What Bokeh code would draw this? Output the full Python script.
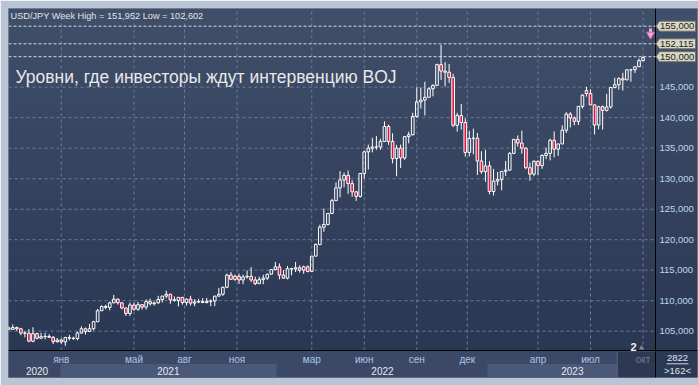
import numpy as np
from bokeh.plotting import figure
from bokeh.models import Range1d, ColumnDataSource
from bokeh.embed import file_html
from bokeh.resources import INLINE
from bokeh.core.properties import value

# ---------------- data (weekly USD/JPY, week index 0 = week of 5 Oct 2020) ----
week = list(range(-1, 157))
opens = [105.55,105.30,105.60,105.40,104.70,104.65,103.35,104.60,103.85,104.10,
         104.15,104.00,103.30,103.55,103.25,103.95,103.85,103.80,104.70,105.40,
         104.95,105.40,106.55,108.35,109.05,108.90,109.65,110.25,109.65,108.80,
         107.90,109.30,108.60,109.35,108.95,109.85,109.50,109.65,110.20,110.75,
         111.05,110.15,110.05,110.55,109.70,110.25,109.60,109.80,109.85,109.70,
         109.90,109.95,110.75,111.05,112.20,114.20,113.50,114.00,113.40,113.90,
         114.00,113.40,112.80,113.45,113.70,114.35,115.10,115.55,114.20,113.70,
         115.25,115.20,115.40,115.00,115.55,114.80,117.30,119.20,122.05,122.50,
         124.30,126.40,128.50,129.80,130.55,129.20,127.85,127.10,130.85,134.40,
         135.00,135.20,135.20,136.10,138.55,136.10,133.30,135.00,133.40,136.90,
         137.20,140.20,142.60,142.90,143.35,144.75,145.30,148.70,147.65,147.45,
         146.60,138.75,140.35,139.20,134.30,136.60,136.65,132.90,131.15,132.10,
         127.90,129.60,129.85,131.20,131.40,134.15,136.45,135.85,135.00,131.80,
         130.75,132.85,132.15,133.80,134.15,136.30,134.85,135.70,137.95,140.60,
         139.95,139.40,141.85,144.45,143.95,142.10,138.80,141.80,141.20,141.75,
         144.95,145.40,146.40,146.20,147.85,147.85,148.35,149.35]
highs = [105.80,106.10,105.75,105.55,105.05,105.35,105.65,104.75,104.75,104.75,
         104.50,104.20,103.90,103.80,104.10,104.40,104.10,104.95,105.80,105.60,
         106.20,106.70,108.65,109.25,109.35,109.85,110.95,110.35,109.80,108.90,
         109.70,109.70,109.80,109.45,110.20,110.35,109.85,110.80,110.80,111.65,
         111.15,110.70,110.60,110.60,110.35,110.80,110.25,110.30,110.40,110.45,
         110.20,110.80,112.10,112.30,114.45,114.70,114.30,114.45,114.30,114.95,
         115.50,113.95,113.95,114.25,114.40,115.20,116.35,116.10,115.05,115.70,
         115.40,116.35,115.80,115.75,115.80,117.35,119.40,122.45,125.10,124.35,
         126.70,129.40,131.25,131.00,131.35,129.75,128.00,130.95,134.55,135.60,
         136.70,137.00,136.55,139.40,138.85,137.45,135.55,135.60,137.00,137.70,
         140.80,144.99,144.95,145.90,145.00,145.45,148.85,151.95,149.10,148.80,
         147.20,140.80,142.25,139.90,137.85,138.20,137.50,134.50,134.75,132.85,
         131.60,131.10,131.20,132.90,134.35,136.50,137.10,137.90,135.15,132.65,
         133.00,133.00,134.00,135.10,136.55,137.75,135.75,138.75,140.90,140.90,
         140.20,141.90,143.85,145.05,144.65,142.15,141.95,142.00,143.90,145.00,
         146.55,146.65,147.35,147.90,147.95,148.45,149.70,150.05]
lows = [105.20,105.25,105.05,104.35,104.00,103.20,103.20,103.65,103.70,103.65,
        103.90,102.90,103.10,102.95,102.60,103.50,103.55,103.50,104.60,104.45,
        104.95,105.15,106.50,108.35,108.60,108.40,109.60,109.35,108.60,107.50,
        107.50,108.35,108.35,108.55,108.55,109.20,109.20,109.50,109.70,110.40,
        109.50,109.85,109.05,109.35,109.20,109.20,109.10,109.60,109.60,109.55,
        109.10,109.10,110.70,110.80,112.05,113.40,113.25,112.75,112.70,113.60,
        113.05,112.55,112.75,112.70,113.40,114.30,115.00,113.50,113.60,113.50,
        114.15,114.70,114.60,114.40,114.65,114.80,117.30,119.10,121.30,122.35,
        124.20,126.40,126.95,128.60,127.50,127.05,126.35,126.90,130.05,131.50,
        134.30,134.75,134.75,136.10,135.55,132.50,130.40,131.75,133.10,135.80,
        137.10,140.00,141.50,140.35,143.30,143.50,145.30,146.20,145.10,145.70,
        138.45,137.70,138.05,133.60,133.65,134.00,130.60,130.80,129.50,127.45,
        127.25,128.90,128.10,130.45,131.30,134.05,135.25,134.10,131.55,129.65,
        130.40,130.60,131.60,133.20,133.00,133.50,133.75,135.65,137.50,138.40,
        138.75,138.80,141.50,143.45,142.05,137.25,138.10,138.05,141.00,141.50,
        144.80,144.60,144.45,146.15,145.90,147.30,148.30,149.25]
closes = [105.30,105.60,105.40,104.70,104.65,103.35,104.60,103.85,104.10,104.15,
          104.00,103.30,103.55,103.25,103.95,103.85,103.80,104.70,105.40,104.95,
          105.40,106.55,108.35,109.05,108.90,109.65,110.25,109.65,108.80,107.90,
          109.30,108.60,109.35,108.95,109.85,109.50,109.65,110.20,110.75,111.05,
          110.15,110.05,110.55,109.70,110.25,109.60,109.80,109.85,109.70,109.90,
          109.95,110.75,111.05,112.20,114.20,113.50,114.00,113.40,113.90,114.00,
          113.40,112.80,113.45,113.70,114.35,115.10,115.55,114.20,113.70,115.25,
          115.20,115.40,115.00,115.55,114.80,117.30,119.20,122.05,122.50,124.30,
          126.40,128.50,129.80,130.55,129.20,127.85,127.10,130.85,134.40,135.00,
          135.20,135.20,136.10,138.55,136.10,133.30,135.00,133.40,136.90,137.20,
          140.20,142.60,142.90,143.35,144.75,145.30,148.70,147.65,147.45,146.60,
          138.75,140.35,139.20,134.30,136.60,136.65,132.90,131.15,132.10,127.90,
          129.60,129.85,131.20,131.40,134.15,136.45,135.85,135.00,131.80,130.75,
          132.85,132.15,133.80,134.15,136.30,134.85,135.70,137.95,140.60,139.95,
          139.40,141.85,143.70,143.95,142.10,138.80,141.80,141.20,141.75,144.95,
          145.40,146.40,146.20,147.85,147.85,148.35,149.35,149.85]

price_ticks = [105, 110, 115, 120, 125, 130, 135, 140, 145]
price_tick_labels = ["105,000", "110,000", "115,000", "120,000", "125,000",
                     "130,000", "135,000", "140,000", "145,000"]
month_ticks = [12, 30, 42.5, 55.5, 74, 87, 100, 112.5, 130, 143, 156]
month_labels = ["янв", "май", "авг", "ноя", "мар", "июн", "сен", "дек",
                "апр", "июл", "окт"]
year_ticks = [6, 38.5, 91.5, 138.5]
year_labels = ["2020", "2021", "2022", "2023"]
year_bounds = [11.8, 65.3, 117.5]        # first week of 2021, 2022, 2023
level_prices = [155.0, 152.115, 150.0]
level_labels = ["155,000", "152,115", "150,000"]
header = "USD/JPY Week High = 151,952 Low = 102,602"
title = "Уровни, где инвесторы ждут интервенцию BOJ"
bars_total, bars_visible = "2822", ">162<"

# ---------------- layout helpers (page pixels -> data) ---------------------
FONT = "Liberation Sans"
RED = "#e3153e"
X0, X1 = -1.06, 169.48          # frame spans page x 8..697
Y0, Y1 = 97.41, 157.9           # frame spans page y 8..377


def xpx(px):
    return X0 + (px - 8) * (X1 - X0) / 689.0


def ypx(py):
    return Y1 - (py - 8) * (Y1 - Y0) / 369.0


XR, YB = xpx(655), ypx(350)     # price-scale separator / time-scale separator

p = figure(width=698, height=385, x_range=Range1d(X0, X1), y_range=Range1d(Y0, Y1),
           output_backend="svg", toolbar_location=None, title=None,
           x_axis_location=None, y_axis_location=None,
           min_border_left=8, min_border_right=1, min_border_top=8,
           min_border_bottom=8)
p.grid.visible = False
p.border_fill_color = "#b9c5d5"
p.background_fill_color = "#34425e"
p.outline_line_color = "#7f8ca3"

# vertical gradient background
n = 185
top_c = np.array([64, 79, 106]); bot_c = np.array([41, 54, 81])
t = np.linspace(0, 1, n)[:, None]
rgb = (bot_c + (top_c - bot_c) * t).astype(np.uint8)
img = np.zeros((n, 1), dtype=np.uint32)
vv = img.view(dtype=np.uint8).reshape((n, 1, 4))
vv[:, 0, 0] = rgb[:, 0]; vv[:, 0, 1] = rgb[:, 1]; vv[:, 0, 2] = rgb[:, 2]; vv[:, 0, 3] = 255
p.image_rgba(image=[img], x=X0, y=Y0, dw=X1 - X0, dh=Y1 - Y0, level="image")

# grid (dashed, subtle)
GRID = "#6d7c9a"
p.segment(x0=month_ticks, y0=[YB] * len(month_ticks), x1=month_ticks,
          y1=[Y1] * len(month_ticks), line_color=GRID, line_dash="3 3", line_width=1)
p.segment(x0=[X0] * len(price_ticks), y0=price_ticks, x1=[XR] * len(price_ticks),
          y1=price_ticks, line_color=GRID, line_dash="3 3", line_width=1)

# time-scale strip
p.quad(left=[X0], right=[XR], bottom=[Y0], top=[YB], fill_color="#3b4966", line_color=None)
p.quad(left=[year_bounds[0], year_bounds[2]], right=[year_bounds[1], xpx(616.7)],
       bottom=[Y0, Y0], top=[ypx(363.5)] * 2, fill_color="#4a5977", line_color=None)
p.quad(left=[xpx(616.7)], right=[XR], bottom=[Y0], top=[ypx(351.5)],
       fill_color="#2d3953", line_color=None)
p.segment(x0=[xpx(616.7)], y0=[Y0], x1=[xpx(616.7)], y1=[ypx(351.5)],
          line_color="#5b6880", line_width=1)
# counter cell under the price scale
p.quad(left=[XR], right=[X1], bottom=[Y0], top=[YB], fill_color="#2c3954", line_color=None)

# separators
p.segment(x0=[X0], y0=[YB], x1=[X1], y1=[YB], line_color="black", line_width=1)
p.segment(x0=[XR], y0=[Y0], x1=[XR], y1=[Y1], line_color="black", line_width=1)

# time labels
month_colors = ["#abc6e6"] * (len(month_labels) - 1) + ["#6d7a92"]
p.text(x=month_ticks, y=[ypx(358.5)] * len(month_ticks), text=month_labels,
       text_color=month_colors, text_align="center", text_baseline="middle",
       text_font=value(FONT), text_font_size="10px")
p.text(x=year_ticks, y=[ypx(370)] * len(year_ticks), text=year_labels,
       text_color="#e3e9f2", text_align="center", text_baseline="middle",
       text_font=value(FONT), text_font_size="10px")

# price labels
p.text(x=[xpx(659)] * len(price_ticks), y=price_ticks, text=price_tick_labels,
       text_color="#bdd6f1", text_align="left", text_baseline="middle",
       text_font=value(FONT), text_font_size="9.5px")

# reference levels
p.segment(x0=[X0] * 3, y0=level_prices, x1=[XR] * 3, y1=level_prices,
          line_color="#d9d9d9", line_dash="3 2", line_width=1)

# level tags (arrow-shaped)
hh = 5 * (Y1 - Y0) / 369.0
xs, ys = [], []
for lv in level_prices:
    xs.append([xpx(655.5), xpx(659), xpx(695), xpx(695), xpx(659)])
    ys.append([lv, lv + hh, lv + hh, lv - hh, lv - hh])
p.patches(xs=xs, ys=ys, fill_color="#dad8c5", line_color="#707068", line_width=1)
p.text(x=[xpx(659.5)] * 3, y=level_prices, text=level_labels, text_color="#1c1c1c",
       text_align="left", text_baseline="middle", text_font=value(FONT),
       text_font_size="9.5px")

# candles
body_top = [max(o, c) for o, c in zip(opens, closes)]
body_bot = [min(o, c) for o, c in zip(opens, closes)]
alpha = [0.0 if c >= o else 1.0 for o, c in zip(opens, closes)]
src = ColumnDataSource(dict(week=week, high=highs, low=lows, btop=body_top,
                            bbot=body_bot, a=alpha))
p.segment(x0="week", y0="btop", x1="week", y1="high", source=src,
          line_color="white", line_width=1)
p.segment(x0="week", y0="low", x1="week", y1="bbot", source=src,
          line_color="white", line_width=1)
p.vbar(x="week", top="btop", bottom="bbot", width=0.65, source=src,
       fill_color=RED, fill_alpha="a", line_color="white", line_width=1)

# alert arrow near the last bar
ax, ay = xpx(650), ypx(32)
p.segment(x0=[ax], y0=[ay], x1=[ax], y1=[ypx(28)], line_color="#f3a8d8", line_width=3)
p.scatter(x=[ax], y=[ypx(34)], marker="inverted_triangle", size=8,
          fill_color="#f3a8d8", line_color="#cf6fb0")

# counter cell texts
p.text(x=[xpx(677)] * 2, y=[ypx(357.3), ypx(370)], text=[bars_total, bars_visible],
       text_color="#dfe6f0", text_align="center", text_baseline="middle",
       text_font=value(FONT), text_font_size="9.5px")
p.segment(x0=[xpx(666)], y0=[ypx(363.3)], x1=[xpx(688)], y1=[ypx(363.3)],
          line_color="#c9d3e1", line_width=1)

# texts inside the chart
p.text(x=[xpx(10)], y=[ypx(15)], text=[header], text_color="#e4e4e4",
       text_align="left", text_baseline="middle", text_font=value(FONT),
       text_font_size="9.2px")
p.text(x=[xpx(15)], y=[ypx(76)], text=[title], text_color="#e8e8e8",
       text_align="left", text_baseline="middle", text_font=value(FONT),
       text_font_size="17.5px")
p.text(x=[xpx(633)], y=[ypx(346)], text=["2"], text_color="#f2f2f2",
       text_align="center", text_baseline="middle", text_font=value(FONT),
       text_font_size="11px", text_font_style="bold")
p.scatter(x=[xpx(641)], y=[ypx(347.5)], marker="triangle", size=5,
          fill_color="#7d889c", line_color=None)

open("out.html", "w").write(file_html(p, INLINE))
